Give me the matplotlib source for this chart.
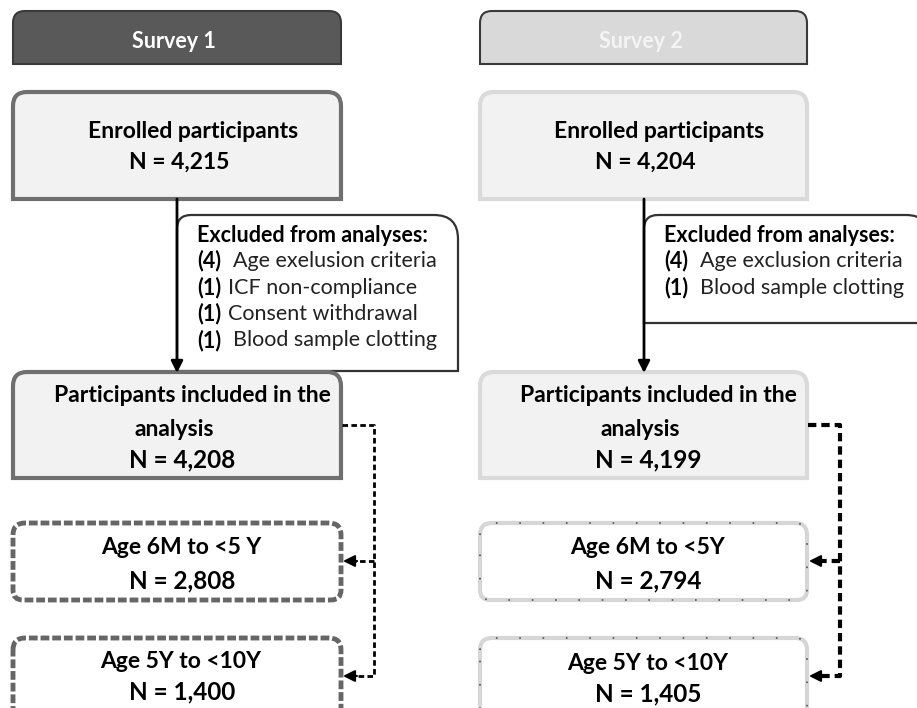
import matplotlib
matplotlib.use('Agg')
import matplotlib.pyplot as plt
from matplotlib.path import Path
from matplotlib.patches import PathPatch

plt.rcParams['font.family'] = ['Lato', 'DejaVu Sans']

# Datos del diagrama
encuestas = ['Survey 1', 'Survey 2']
inscritos = [4215, 4204]
incluidos = [4208, 4199]
excl_n = [[4, 1, 1, 1], [4, 1]]
excl_motivos = [['Age exelusion criteria', 'ICF non-compliance', 'Consent withdrawal', 'Blood sample clotting'],
                ['Age exclusion criteria', 'Blood sample clotting']]
grupos_edad = [['Age 6M to <5 Y', 'Age 5Y to <10Y'], ['Age 6M to <5Y', 'Age 5Y to <10Y']]
n_edad = [[2808, 1400], [2794, 1405]]


# Caja con esquinas redondeadas (coordenadas en pixeles, eje y invertido)
def caja(ax, x0, y0, x1, y1, r_tl=12, r_tr=12, r_bl=0, r_br=0, **kw):
    verts = [(x0, y0 + r_tl), (x0, y0), (x0 + r_tl, y0),
             (x1 - r_tr, y0), (x1, y0), (x1, y0 + r_tr),
             (x1, y1 - r_br), (x1, y1), (x1 - r_br, y1),
             (x0 + r_bl, y1), (x0, y1), (x0, y1 - r_bl),
             (x0, y0 + r_tl)]
    codes = [Path.MOVETO, Path.CURVE3, Path.CURVE3,
             Path.LINETO, Path.CURVE3, Path.CURVE3,
             Path.LINETO, Path.CURVE3, Path.CURVE3,
             Path.LINETO, Path.CURVE3, Path.CURVE3,
             Path.CLOSEPOLY]
    p = PathPatch(Path(verts, codes), **kw)
    ax.add_patch(p)
    return p


def flecha(ax, x0, y0, x1, y1, lw=2):
    ax.annotate('', xy=(x1, y1), xytext=(x0, y0),
                arrowprops=dict(arrowstyle='-|>,head_length=0.7,head_width=0.35', color='black',
                                lw=lw, shrinkA=0, shrinkB=0))


fig = plt.figure(figsize=(9.17, 7.08), dpi=100)
ax = fig.add_axes([0, 0, 1, 1])
ax.set_xlim(0, 917)
ax.set_ylim(708, 0)
ax.axis('off')

cols = [(13, 341), (480, 807)]
cab_fill = ['#595959', '#d9d9d9']
cab_txt = ['white', '#f4f4f4']
box_edge = ['#6f6f6f', '#dadada']
fs = 16.5
fs_ex = 15.5

for k in range(2):
    x0, x1 = cols[k]
    xc = (x0 + x1) / 2

    # Cabecera
    caja(ax, x0, 11, x1, 64, r_tl=12, r_tr=12, facecolor=cab_fill[k], edgecolor='#3a3a3a', lw=1.5)
    ax.text(xc - 3, 42, encuestas[k], ha='center', va='center', color=cab_txt[k],
            fontsize=fs - 1, fontweight='bold')

    # Inscritos
    caja(ax, x0, 92, x1, 199, r_tl=14, r_tr=14, facecolor='#f2f2f2', edgecolor=box_edge[k], lw=3)
    ax.text(xc + 16, 132, 'Enrolled participants', ha='center', va='center', fontsize=fs, fontweight='bold')
    ax.text(xc + 2, 162, f'N = {inscritos[k]:,}', ha='center', va='center', fontsize=fs, fontweight='bold')

    # Flecha vertical y caja de exclusiones
    xa = x0 + 164
    n_lin = len(excl_n[k])
    y_bot = 371 if n_lin == 4 else 323
    caja(ax, xa, 215, 930 if k == 1 else 458, y_bot, r_tl=14, r_tr=24, facecolor='white',
         edgecolor='#333333', lw=1.6)
    flecha(ax, xa, 199, xa, 373, lw=2)
    ax.text(xa + 20, 235, 'Excluded from analyses:', ha='left', va='center', fontsize=fs_ex,
            fontweight='bold')
    for i, (n, motivo) in enumerate(zip(excl_n[k], excl_motivos[k])):
        yy = 261 + i * 26.5
        ax.text(xa + 20, yy, f'({n})', ha='left', va='center', fontsize=fs_ex, fontweight='bold')
        dx = 56 if (k == 1 or i in (0, 3)) else 51
        ax.text(xa + dx, yy, motivo, ha='left', va='center', fontsize=fs_ex, color='#222222')

    # Participantes incluidos
    caja(ax, x0, 372, x1, 478, r_tl=14, r_tr=14, facecolor='#f2f2f2', edgecolor=box_edge[k], lw=3)
    ax.text(xc + 15, 396, 'Participants included in the', ha='center', va='center', fontsize=fs,
            fontweight='bold')
    ax.text(xc - 3, 429, 'analysis', ha='center', va='center', fontsize=fs, fontweight='bold')
    ax.text(xc + 5, 460, f'N = {incluidos[k]:,}', ha='center', va='center', fontsize=fs + 1,
            fontweight='bold')

    # Grupos de edad
    for j, (grupo, n) in enumerate(zip(grupos_edad[k], n_edad[k])):
        y0 = [523, 638][j]
        y1 = [600, 730][j]
        if k == 0:
            caja(ax, x0, y0, x1, y1, r_tl=12, r_tr=12, r_bl=10, r_br=10, facecolor='white',
                 edgecolor='#666666', lw=3.5, linestyle=(0, (1.8, 0.6)))
        else:
            caja(ax, x0, y0, x1, y1, r_tl=12, r_tr=12, r_bl=10, r_br=10, facecolor='white',
                 edgecolor='#d6d6d6', lw=3)
            caja(ax, x0, y0, x1, y1, r_tl=12, r_tr=12, r_bl=10, r_br=10, facecolor='none',
                 edgecolor='#555555', lw=1.2, linestyle=(0, (1, 13)))
        yt = [547, 661][j] + (2 * k if j == 1 else 0)
        yn = [581, 692][j] + (2 * k if j == 1 else 0)
        ax.text(xc + 4, yt, grupo, ha='center', va='center', fontsize=fs, fontweight='bold')
        ax.text(xc + 5, yn, f'N = {n:,}', ha='center', va='center', fontsize=fs + 1, fontweight='bold')

    # Conector punteado
    xr = x1 + 33
    lw_c = 2 if k == 0 else 3
    ax.plot([x1 + 1, xr, xr, x1 + 14], [425, 425, 676, 676], color='black', lw=lw_c,
            linestyle=(0, (2, 1.2)), solid_capstyle='butt')
    ax.plot([xr, x1 + 14], [561, 561], color='black', lw=lw_c, linestyle=(0, (2, 1.2)))
    for yy in (561, 676):
        flecha(ax, x1 + 16, yy, x1 + 2, yy, lw=1.5)

fig.savefig('out.png', dpi=100)
